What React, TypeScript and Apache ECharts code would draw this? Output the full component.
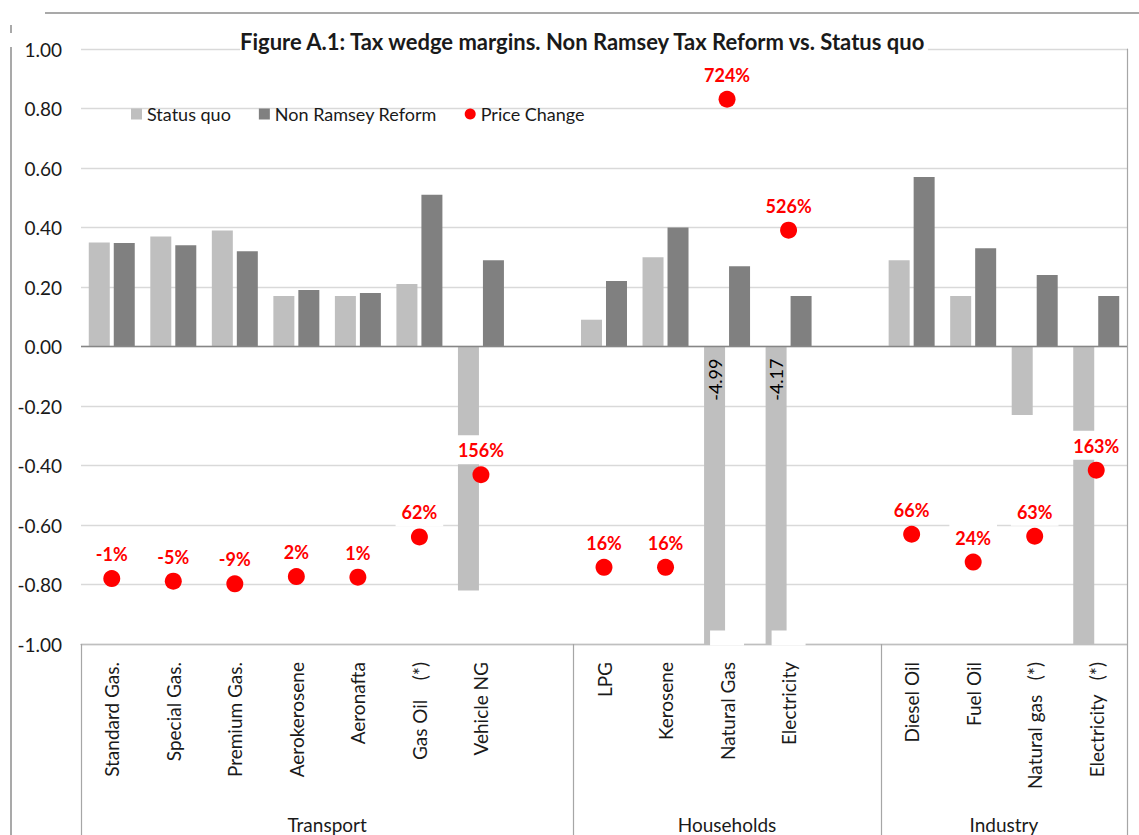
import React, { useEffect, useRef } from 'react';
import * as echarts from 'echarts';

const categories = [
  'Standard Gas.', 'Special Gas.', 'Premium Gas.', 'Aerokerosene', 'Aeronafta', 'Gas Oil    (*)', 'Vehicle NG', '',
  'LPG', 'Kerosene', 'Natural Gas', 'Electricity', '',
  'Diesel Oil', 'Fuel Oil', 'Natural gas   (*)', 'Electricity   (*)',
];
const statusQuo = [0.35, 0.37, 0.39, 0.17, 0.17, 0.21, -0.82, null, 0.09, 0.30, -4.99, -4.17, null, 0.29, 0.17, -0.23, -1.0];
const nonRamsey = [0.348, 0.34, 0.32, 0.19, 0.18, 0.51, 0.29, null, 0.22, 0.40, 0.27, 0.17, null, 0.57, 0.33, 0.24, 0.17];
const priceChange = [-0.01, -0.05, -0.09, 0.02, 0.01, 0.62, 1.56, null, 0.16, 0.16, 7.24, 5.26, null, 0.66, 0.24, 0.63, 1.63];
const groupNames = ['Transport', 'Households', 'Industry'];
const groupBounds = [0, 8, 13, 17];
const yMin = -1;
const yMax = 1;
const yStep = 0.2;
const pcMin = -1;
const pcMax = 8;

const FONT = 'Lato, "Open Sans", sans-serif';
const TXT = '#1a1a1a';

export default function App() {
  const ref = useRef<HTMLDivElement>(null);
  useEffect(() => {
    const chart = echarts.init(ref.current!, null, { renderer: 'svg' });
    const groupCenters = groupNames.map((_, i) => (groupBounds[i] + groupBounds[i + 1]) / 2);
    const sqData = statusQuo.map((v) =>
      v === null
        ? '-'
        : v < yMin
        ? {
            value: v,
            label: {
              show: true,
              position: 'insideTop',
              distance: 12,
              rotate: 90,
              align: 'right',
              verticalAlign: 'middle',
              formatter: (p: any) => Number(p.value).toFixed(2),
              fontSize: 18,
              color: '#000',
              fontFamily: FONT,
            },
          }
        : v
    );
    const breakData = statusQuo.map((v) => (v !== null && v < yMin ? yMin + 0.02 : '-'));
    const nrData = nonRamsey.map((v) => (v === null ? '-' : v));
    const pcData = priceChange.map((v) => (v === null ? '-' : v));

    chart.setOption({
      animation: false,
      title: {
        text: 'Figure A.1: Tax wedge margins. Non Ramsey Tax Reform vs. Status quo',
        left: 240,
        top: 28,
        padding: [2, 0, 3, 0],
        backgroundColor: '#fff',
        textStyle: { fontSize: 22, fontWeight: 'bold', color: TXT, fontFamily: FONT },
      },
      legend: {
        left: 131,
        top: 105,
        padding: 0,
        itemWidth: 11,
        itemHeight: 11,
        itemGap: 28,
        textStyle: { fontSize: 18, color: TXT, fontFamily: FONT },
        data: [
          { name: 'Status quo', icon: 'rect' },
          { name: 'Non Ramsey Reform', icon: 'rect' },
          { name: 'Price Change', icon: 'circle' },
        ],
      },
      graphic: [
        { type: 'line', shape: { x1: 45, y1: 13, x2: 1139, y2: 13 }, style: { stroke: '#8c8c8c', lineWidth: 1.5 } },
        { type: 'line', shape: { x1: 11, y1: 25, x2: 11, y2: 33 }, style: { stroke: '#8c8c8c', lineWidth: 1.5 } },
        { type: 'line', shape: { x1: 11, y1: 47, x2: 11, y2: 835 }, style: { stroke: '#8c8c8c', lineWidth: 1.5 } },
      ],
      grid: { left: 81, right: 12, top: 49, bottom: 191, containLabel: false },
      xAxis: [
        {
          type: 'category',
          data: categories,
          position: 'bottom',
          axisLine: { onZero: false, lineStyle: { color: '#bfbfbf', width: 1.3 } },
          axisTick: { show: false },
          axisLabel: { interval: 0, rotate: 90, margin: 18, fontSize: 19, color: TXT, fontFamily: FONT },
        },
        {
          type: 'value',
          min: 0,
          max: 17,
          position: 'bottom',
          axisLine: { show: false, onZero: false },
          splitLine: { show: false },
          axisTick: { show: true, length: 191, customValues: groupBounds, lineStyle: { color: '#a6a6a6', width: 1.2 } },
          axisLabel: {
            customValues: groupCenters,
            formatter: (v: number) => groupNames[groupCenters.indexOf(v)] || '',
            margin: 171,
            fontSize: 19,
            color: TXT,
            fontFamily: FONT,
          },
        },
      ],
      yAxis: [
        {
          type: 'value',
          min: yMin,
          max: yMax,
          interval: yStep,
          axisLine: { show: false },
          axisTick: { show: false },
          splitLine: { lineStyle: { color: '#d9d9d9', width: 1.3 } },
          axisLabel: { formatter: (v: number) => v.toFixed(2), fontSize: 19, margin: 19, color: TXT, fontFamily: FONT },
        },
        {
          type: 'value',
          min: pcMin,
          max: pcMax,
          position: 'right',
          axisLine: { show: true, onZero: false, lineStyle: { color: '#a6a6a6', width: 1.2 } },
          axisTick: { show: false },
          axisLabel: { show: false },
          splitLine: { show: false },
        },
      ],
      series: [
        {
          name: 'Status quo',
          type: 'bar',
          data: sqData,
          barWidth: 21,
          barGap: '19%',
          itemStyle: { color: '#bfbfbf' },
          z: 2,
          markLine: {
            silent: true,
            symbol: 'none',
            label: { show: false },
            lineStyle: { color: '#868686', width: 1.3, type: 'solid' },
            data: [{ yAxis: 0 }],
          },
        },
        {
          name: 'Non Ramsey Reform',
          type: 'bar',
          data: nrData,
          barWidth: 21,
          itemStyle: { color: '#808080' },
          z: 2,
        },
        {
          name: 'break',
          type: 'scatter',
          data: breakData,
          symbol: 'rect',
          symbolSize: [34, 15],
          itemStyle: { color: '#ffffff', opacity: 1 },
          silent: true,
          z: 3,
        },
        {
          name: 'Price Change',
          type: 'scatter',
          yAxisIndex: 1,
          data: pcData,
          symbolSize: 17,
          itemStyle: { color: '#ff0000', opacity: 1 },
          z: 4,
          label: {
            show: true,
            position: 'top',
            distance: 2,
            formatter: (p: any) => Math.round(p.value * 100) + '%',
            fontSize: 18,
            fontWeight: 'bold',
            color: '#ff0000',
            fontFamily: FONT,
            backgroundColor: '#ffffff',
            padding: [6, 6, 5, 6],
          },
        },
      ],
    });
    return () => chart.dispose();
  }, []);
  return <div ref={ref} style={{ position: 'fixed', left: 0, top: 0, width: 1139, height: 835, background: '#fff' }} />;
}
